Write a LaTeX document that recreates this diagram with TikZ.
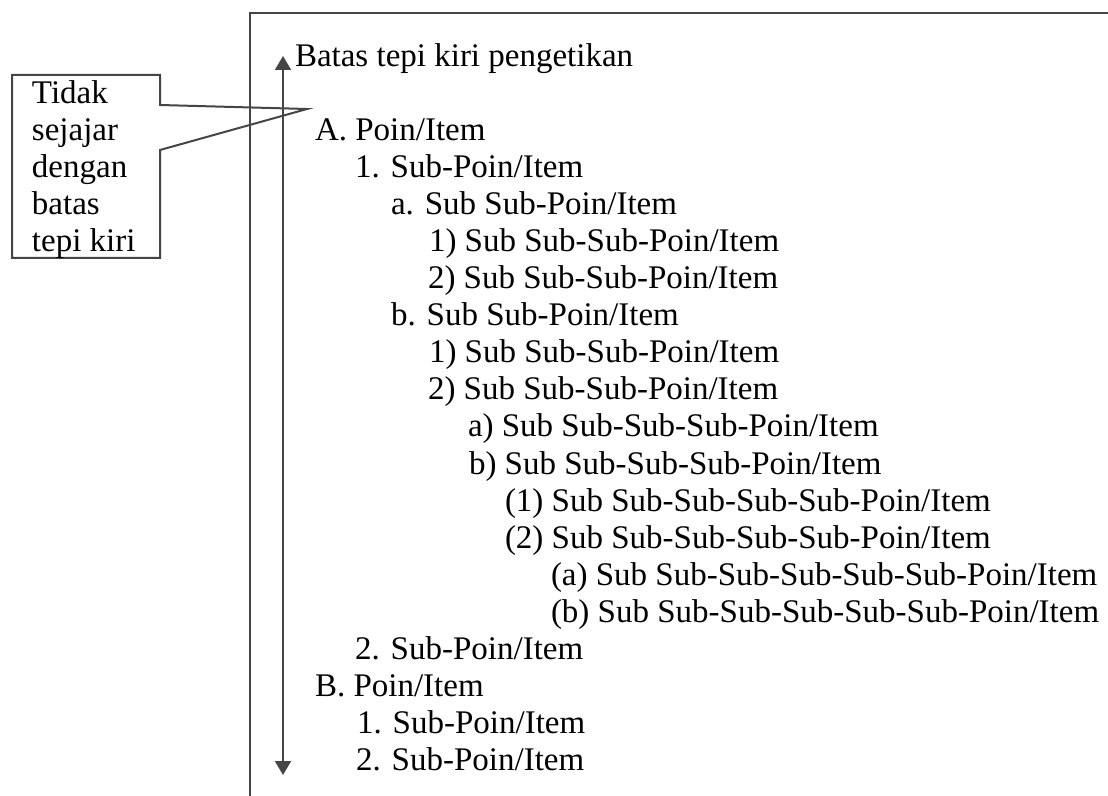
\documentclass[tikz,border=0pt]{standalone}
\usepackage{fontspec}
\setmainfont{Liberation Serif}
\usetikzlibrary{arrows.meta}
\definecolor{linegray}{HTML}{454545}
\begin{document}
\begin{tikzpicture}[x=0.5pt,y=-0.5pt,
  item/.style={anchor=base west, inner sep=0pt, outer sep=0pt, font=\fontsize{16.5}{18.5}\selectfont},
  frameline/.style={draw=linegray, line width=1.2pt},
  calloutline/.style={draw=linegray, line width=1pt, line join=miter},
  arrowline/.style={draw=linegray, line width=1pt, {Triangle[width=8pt,length=7pt]}-{Triangle[width=8pt,length=7pt]}}]
\useasboundingbox (0,0) rectangle (1108,796);
% frame
\draw[frameline] (250,796) -- (250,13) -- (1108,13);
% arrow
\coordinate (atop) at (283,56);
\coordinate (abot) at (283,775);
\draw[arrowline] (atop) -- (abot);
% callout
\coordinate (tip) at (307,109);
\draw[calloutline] (12,75) -- (160,75) -- (160,105) -- (tip) -- (160,150) -- (160,258) -- (12,258) -- cycle;
\node[item] (c1) at (32,104) {Tidak};
\node[item] (c2) at (32,141) {sejajar};
\node[item] (c3) at (32,178) {dengan};
\node[item] (c4) at (32,215) {batas};
\node[item] (c5) at (32,252) {tepi kiri};
% list
\node[item] (l0) at (295,67) {Batas tepi kiri pengetikan};
\node[item] (l2) at (315,141) {A. Poin/Item};
\node[item] (l3) at (355,178) {1. Sub-Poin/Item};
\node[item] (l4) at (391,215) {a. Sub Sub-Poin/Item};
\node[item] (l5) at (429,252) {1) Sub Sub-Sub-Poin/Item};
\node[item] (l6) at (428,289) {2) Sub Sub-Sub-Poin/Item};
\node[item] (l7) at (391,326) {b. Sub Sub-Poin/Item};
\node[item] (l8) at (429,363) {1) Sub Sub-Sub-Poin/Item};
\node[item] (l9) at (428,400) {2) Sub Sub-Sub-Poin/Item};
\node[item] (l10) at (468,437) {a) Sub Sub-Sub-Sub-Poin/Item};
\node[item] (l11) at (469,474) {b) Sub Sub-Sub-Sub-Poin/Item};
\node[item] (l12) at (505,511) {(1) Sub Sub-Sub-Sub-Sub-Poin/Item};
\node[item] (l13) at (505,548) {(2) Sub Sub-Sub-Sub-Sub-Poin/Item};
\node[item] (l14) at (551,585) {(a) Sub Sub-Sub-Sub-Sub-Sub-Poin/Item};
\node[item] (l15) at (551,622) {(b) Sub Sub-Sub-Sub-Sub-Sub-Poin/Item};
\node[item] (l16) at (355,659) {2. Sub-Poin/Item};
\node[item] (l17) at (315,696) {B. Poin/Item};
\node[item] (l18) at (357,733) {1. Sub-Poin/Item};
\node[item] (l19) at (356,770) {2. Sub-Poin/Item};
\end{tikzpicture}
\end{document}
